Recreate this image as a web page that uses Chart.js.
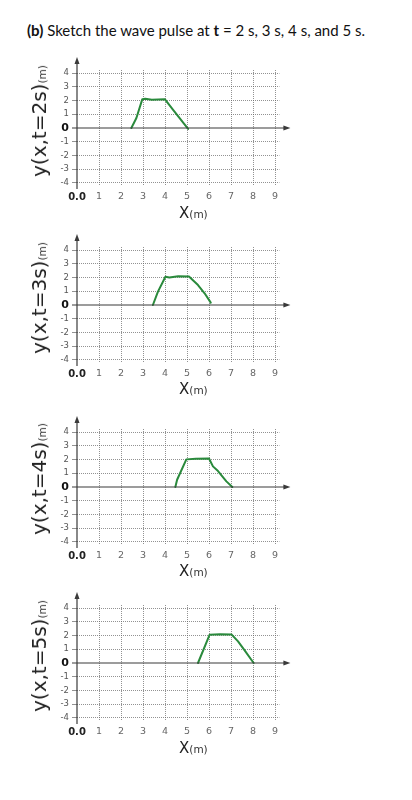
<!DOCTYPE html>
<html>
<head>
<meta charset="utf-8">
<script src="https://cdn.jsdelivr.net/npm/chart.js@4"></script>
<style>
  html, body { margin:0; padding:0; background:#fff; }
  body { width:412px; height:800px; position:relative; overflow:hidden; }
  .panel { position:absolute; left:0; width:412px; height:160px; }
  .panel canvas { display:block; }
  .heading { position:absolute; left:27px; top:21px; font-family:Lato, "Open Sans", sans-serif; font-size:15px; color:#111; white-space:nowrap; }
  .ytitle { position:absolute; left:39px; transform:translate(-50%,-50%) rotate(-90deg); font-family:"DejaVu Sans", sans-serif; font-size:20px; line-height:1; color:#222; white-space:nowrap; }
  .ytitle small, .xtitle small { font-size:10.5px; color:#333; }
  .xtitle { position:absolute; left:179px; font-family:"DejaVu Sans", sans-serif; font-size:15px; line-height:1; color:#222; white-space:nowrap; }
</style>
</head>
<body>
<div class="heading"><b>(b)</b> Sketch the wave pulse at <b>t</b> = 2 s, 3 s, 4 s, and 5 s.</div>

<script>
// ---- data ----
const times = ['2s', '3s', '4s', '5s'];
const xTickLabels = ['0.0', '1', '2', '3', '4', '5', '6', '7', '8', '9'];
const yTickLabels = ['-4', '-3', '-2', '-1', '0', '1', '2', '3', '4'];

const t2X = [2.47, 2.70, 2.97, 3.10, 3.40, 3.99, 4.36, 5.05];
const t2Y = [0.00, 0.73, 2.10, 2.13, 2.05, 2.10, 1.33, -0.07];

const t3X = [3.45, 3.68, 4.02, 4.20, 4.60, 5.09, 5.50, 5.80, 6.08];
const t3Y = [0.00, 0.97, 2.06, 2.00, 2.10, 2.08, 1.45, 0.85, 0.17];

const t4X = [4.47, 4.55, 4.97, 5.40, 6.00, 6.18, 6.41, 6.79, 7.06];
const t4Y = [0.00, 0.53, 2.01, 2.05, 2.07, 1.50, 1.16, 0.41, 0.00];

const t5X = [5.50, 6.03, 6.50, 7.02, 7.32, 7.62, 8.03];
const t5Y = [0.00, 2.06, 2.10, 2.08, 1.57, 0.92, 0.00];

const seriesX = [t2X, t3X, t4X, t5X];
const seriesY = [t2Y, t3Y, t4Y, t5Y];

// ---- layout ----
const zeroLines = [128.3, 305, 486.7, 663.3];
const ZERO_IN_CANVAS = 78;

const axesPlugin = {
  id: 'axesArrows',
  afterDatasetsDraw(chart) {
    const {ctx, chartArea, scales} = chart;
    const x0 = scales.x.getPixelForValue(0);
    const y0 = scales.y.getPixelForValue(0);
    ctx.save();
    ctx.strokeStyle = '#3a3a3a';
    ctx.fillStyle = '#3a3a3a';
    ctx.lineWidth = 1.2;
    // y axis
    ctx.beginPath();
    ctx.moveTo(x0, chartArea.bottom + 3);
    ctx.lineTo(x0, chartArea.top - 8);
    ctx.stroke();
    ctx.beginPath();
    ctx.moveTo(x0, chartArea.top - 13);
    ctx.lineTo(x0 - 2.5, chartArea.top - 6);
    ctx.lineTo(x0 + 2.5, chartArea.top - 6);
    ctx.closePath();
    ctx.fill();
    // x axis
    ctx.beginPath();
    ctx.moveTo(chartArea.left - 5, y0);
    ctx.lineTo(chartArea.right + 6, y0);
    ctx.stroke();
    ctx.beginPath();
    ctx.moveTo(chartArea.right + 11, y0);
    ctx.lineTo(chartArea.right + 4, y0 - 2.5);
    ctx.lineTo(chartArea.right + 4, y0 + 2.5);
    ctx.closePath();
    ctx.fill();
    ctx.restore();
  }
};

times.forEach((t, i) => {
  const zero = zeroLines[i];
  const top = zero - ZERO_IN_CANVAS;

  const wrap = document.createElement('div');
  wrap.className = 'panel';
  wrap.style.top = top + 'px';
  const cv = document.createElement('canvas');
  cv.width = 412;
  cv.height = 160;
  cv.style.width = '412px';
  cv.style.height = '160px';
  wrap.appendChild(cv);
  document.body.appendChild(wrap);

  const yt = document.createElement('div');
  yt.className = 'ytitle';
  yt.style.top = (zero - 7.5) + 'px';
  yt.innerHTML = 'y(x,t=' + t + ')<small>(m)</small>';
  document.body.appendChild(yt);

  const xt = document.createElement('div');
  xt.className = 'xtitle';
  xt.style.top = (zero + 77.3) + 'px';
  xt.innerHTML = 'X<small>(m)</small>';
  document.body.appendChild(xt);

  const pts = seriesX[i].map((x, k) => ({x: x, y: seriesY[i][k]}));

  new Chart(cv, {
    type: 'scatter',
    data: {
      datasets: [{
        data: pts,
        showLine: true,
        borderColor: '#2a8a3c',
        borderWidth: 2,
        pointRadius: 0,
        tension: 0,
        borderCapStyle: 'round',
        borderJoinStyle: 'round'
      }]
    },
    options: {
      responsive: false,
      maintainAspectRatio: false,
      animation: false,
      devicePixelRatio: 1,
      layout: { padding: { left: 37, right: 132.6, top: 20, bottom: 0 } },
      plugins: { legend: { display: false }, tooltip: { enabled: false } },
      scales: {
        x: {
          type: 'linear',
          min: 0, max: 9.2,
          afterFit: s => { s.height = 24; },
          border: { display: false, dash: [1, 1] },
          grid: {
            drawTicks: false,
            color: ctx => (ctx.tick && ctx.tick.value === 0) ? 'rgba(0,0,0,0)' : 'rgba(100,100,100,0.7)',
            lineWidth: 1
          },
          ticks: {
            stepSize: 1,
            includeBounds: false,
            autoSkip: false,
            maxRotation: 0,
            padding: 5,
            callback: v => xTickLabels[Math.round(v)],
            color: c => c.tick && c.tick.value === 0 ? '#222' : '#666',
            font: c => c.tick && c.tick.value === 0
              ? { family: 'DejaVu Sans', size: 10, weight: 'bold' }
              : { family: 'DejaVu Sans', size: 9.5 }
          }
        },
        y: {
          type: 'linear',
          min: -4.22, max: 4.22,
          afterFit: s => { s.width = 40; },
          border: { display: false, dash: [1, 1] },
          grid: {
            drawTicks: true,
            tickLength: 5,
            color: ctx => (ctx.tick && ctx.tick.value === 0) ? 'rgba(0,0,0,0)' : 'rgba(100,100,100,0.7)',
            lineWidth: 1
          },
          ticks: {
            stepSize: 1,
            includeBounds: false,
            autoSkip: false,
            padding: 3,
            callback: v => yTickLabels[Math.round(v) + 4],
            color: c => c.tick && c.tick.value === 0 ? '#111' : '#555',
            font: c => c.tick && c.tick.value === 0
              ? { family: 'DejaVu Sans', size: 11, weight: 'bold' }
              : { family: 'DejaVu Sans', size: 8.5 }
          }
        }
      }
    },
    plugins: [axesPlugin]
  });
});
</script>
</body>
</html>
